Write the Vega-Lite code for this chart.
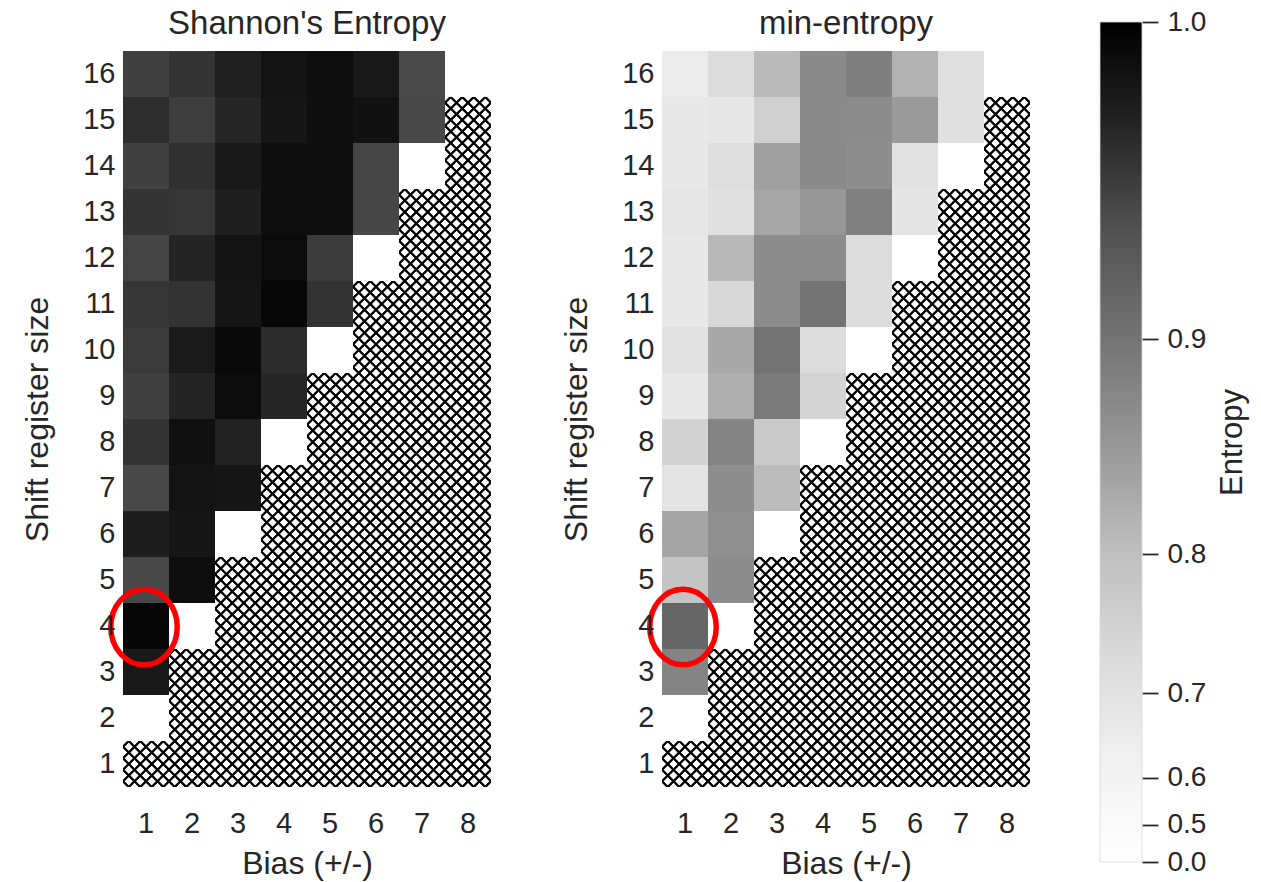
{
  "$schema": "https://vega.github.io/schema/vega-lite/v6.json",
  "padding": {"left": 21, "top": 8, "right": 10, "bottom": 5},
  "bounds": "full",
  "spacing": 69,
  "data": {"values": [
    {"bias":1,"size":16,"shannon":0.952,"minent":0.653},{"bias":2,"size":16,"shannon":0.960,"minent":0.724},{"bias":3,"size":16,"shannon":0.975,"minent":0.809},{"bias":4,"size":16,"shannon":0.985,"minent":0.873},{"bias":5,"size":16,"shannon":0.989,"minent":0.887},{"bias":6,"size":16,"shannon":0.981,"minent":0.820},{"bias":7,"size":16,"shannon":0.944,"minent":0.708},{"bias":8,"size":16,"shannon":0,"minent":0},
    {"bias":1,"size":15,"shannon":0.965,"minent":0.673},{"bias":2,"size":15,"shannon":0.953,"minent":0.683},{"bias":3,"size":15,"shannon":0.970,"minent":0.760},{"bias":4,"size":15,"shannon":0.983,"minent":0.873},{"bias":5,"size":15,"shannon":0.989,"minent":0.871},{"bias":6,"size":15,"shannon":0.986,"minent":0.852},{"bias":7,"size":15,"shannon":0.946,"minent":0.708},{"bias":8,"size":15},
    {"bias":1,"size":14,"shannon":0.951,"minent":0.673},{"bias":2,"size":14,"shannon":0.963,"minent":0.720},{"bias":3,"size":14,"shannon":0.981,"minent":0.845},{"bias":4,"size":14,"shannon":0.989,"minent":0.873},{"bias":5,"size":14,"shannon":0.989,"minent":0.868},{"bias":6,"size":14,"shannon":0.947,"minent":0.700},{"bias":7,"size":14,"shannon":0,"minent":0},{"bias":8,"size":14},
    {"bias":1,"size":13,"shannon":0.961,"minent":0.683},{"bias":2,"size":13,"shannon":0.959,"minent":0.708},{"bias":3,"size":13,"shannon":0.976,"minent":0.837},{"bias":4,"size":13,"shannon":0.989,"minent":0.857},{"bias":5,"size":13,"shannon":0.989,"minent":0.886},{"bias":6,"size":13,"shannon":0.947,"minent":0.692},{"bias":7,"size":13},{"bias":8,"size":13},
    {"bias":1,"size":12,"shannon":0.949,"minent":0.673},{"bias":2,"size":12,"shannon":0.972,"minent":0.812},{"bias":3,"size":12,"shannon":0.985,"minent":0.871},{"bias":4,"size":12,"shannon":0.992,"minent":0.871},{"bias":5,"size":12,"shannon":0.955,"minent":0.724},{"bias":6,"size":12,"shannon":0,"minent":0},{"bias":7,"size":12},{"bias":8,"size":12},
    {"bias":1,"size":11,"shannon":0.959,"minent":0.673},{"bias":2,"size":11,"shannon":0.961,"minent":0.738},{"bias":3,"size":11,"shannon":0.984,"minent":0.871},{"bias":4,"size":11,"shannon":0.994,"minent":0.901},{"bias":5,"size":11,"shannon":0.961,"minent":0.724},{"bias":6,"size":11},{"bias":7,"size":11},{"bias":8,"size":11},
    {"bias":1,"size":10,"shannon":0.956,"minent":0.700},{"bias":2,"size":10,"shannon":0.980,"minent":0.834},{"bias":3,"size":10,"shannon":0.993,"minent":0.902},{"bias":4,"size":10,"shannon":0.966,"minent":0.724},{"bias":5,"size":10,"shannon":0,"minent":0},{"bias":6,"size":10},{"bias":7,"size":10},{"bias":8,"size":10},
    {"bias":1,"size":9,"shannon":0.951,"minent":0.673},{"bias":2,"size":9,"shannon":0.972,"minent":0.826},{"bias":3,"size":9,"shannon":0.992,"minent":0.893},{"bias":4,"size":9,"shannon":0.970,"minent":0.749},{"bias":5,"size":9},{"bias":6,"size":9},{"bias":7,"size":9},{"bias":8,"size":9},
    {"bias":1,"size":8,"shannon":0.960,"minent":0.754},{"bias":2,"size":8,"shannon":0.988,"minent":0.881},{"bias":3,"size":8,"shannon":0.973,"minent":0.775},{"bias":4,"size":8,"shannon":0,"minent":0},{"bias":5,"size":8},{"bias":6,"size":8},{"bias":7,"size":8},{"bias":8,"size":8},
    {"bias":1,"size":7,"shannon":0.946,"minent":0.692},{"bias":2,"size":7,"shannon":0.985,"minent":0.868},{"bias":3,"size":7,"shannon":0.983,"minent":0.806},{"bias":4,"size":7},{"bias":5,"size":7},{"bias":6,"size":7},{"bias":7,"size":7},{"bias":8,"size":7},
    {"bias":1,"size":6,"shannon":0.977,"minent":0.840},{"bias":2,"size":6,"shannon":0.983,"minent":0.867},{"bias":3,"size":6,"shannon":0,"minent":0},{"bias":4,"size":6},{"bias":5,"size":6},{"bias":6,"size":6},{"bias":7,"size":6},{"bias":8,"size":6},
    {"bias":1,"size":5,"shannon":0.946,"minent":0.789},{"bias":2,"size":5,"shannon":0.990,"minent":0.871},{"bias":3,"size":5},{"bias":4,"size":5},{"bias":5,"size":5},{"bias":6,"size":5},{"bias":7,"size":5},{"bias":8,"size":5},
    {"bias":1,"size":4,"shannon":0.995,"minent":0.916},{"bias":2,"size":4,"shannon":0,"minent":0},{"bias":3,"size":4},{"bias":4,"size":4},{"bias":5,"size":4},{"bias":6,"size":4},{"bias":7,"size":4},{"bias":8,"size":4},
    {"bias":1,"size":3,"shannon":0.981,"minent":0.881},{"bias":2,"size":3},{"bias":3,"size":3},{"bias":4,"size":3},{"bias":5,"size":3},{"bias":6,"size":3},{"bias":7,"size":3},{"bias":8,"size":3},
    {"bias":1,"size":2,"shannon":0,"minent":0},{"bias":2,"size":2},{"bias":3,"size":2},{"bias":4,"size":2},{"bias":5,"size":2},{"bias":6,"size":2},{"bias":7,"size":2},{"bias":8,"size":2},
    {"bias":1,"size":1},{"bias":2,"size":1},{"bias":3,"size":1},{"bias":4,"size":1},{"bias":5,"size":1},{"bias":6,"size":1},{"bias":7,"size":1},{"bias":8,"size":1}
  ]},
  "resolve": {"scale": {"x": "independent", "y": "independent", "color": "independent"}},
  "hconcat": [
    {
      "width": 368, "height": 736,
      "title": {"text": "Shannon's Entropy"},
      "encoding": {
        "x": {"field": "bias", "type": "ordinal", "title": "Bias (+/-)", "scale": {"paddingInner": 0, "paddingOuter": 0}, "axis": {"labelAngle": 0, "labelPadding": 22, "titlePadding": 10}},
        "y": {"field": "size", "type": "ordinal", "sort": "descending", "title": "Shift register size", "scale": {"paddingInner": 0, "paddingOuter": 0}, "axis": {"labelPadding": 8, "titlePadding": 28}}
      },
      "layer": [
        {"transform": [{"filter": "!isValid(datum.shannon)"}], "mark": {"type": "rect", "fill": {"gradient": "linear", "x1": 0, "y1": 0, "x2": 1, "y2": 1, "stops": [{"offset":0.0385,"color":"rgba(0,0,0,0)"},{"offset":0.0505,"color":"#000"},{"offset":0.0745,"color":"#000"},{"offset":0.0865,"color":"rgba(0,0,0,0)"},{"offset":0.1635,"color":"rgba(0,0,0,0)"},{"offset":0.1755,"color":"#000"},{"offset":0.1995,"color":"#000"},{"offset":0.2115,"color":"rgba(0,0,0,0)"},{"offset":0.2885,"color":"rgba(0,0,0,0)"},{"offset":0.3005,"color":"#000"},{"offset":0.3245,"color":"#000"},{"offset":0.3365,"color":"rgba(0,0,0,0)"},{"offset":0.4135,"color":"rgba(0,0,0,0)"},{"offset":0.4255,"color":"#000"},{"offset":0.4495,"color":"#000"},{"offset":0.4615,"color":"rgba(0,0,0,0)"},{"offset":0.5385,"color":"rgba(0,0,0,0)"},{"offset":0.5505,"color":"#000"},{"offset":0.5745,"color":"#000"},{"offset":0.5865,"color":"rgba(0,0,0,0)"},{"offset":0.6635,"color":"rgba(0,0,0,0)"},{"offset":0.6755,"color":"#000"},{"offset":0.6995,"color":"#000"},{"offset":0.7115,"color":"rgba(0,0,0,0)"},{"offset":0.7885,"color":"rgba(0,0,0,0)"},{"offset":0.8005,"color":"#000"},{"offset":0.8245,"color":"#000"},{"offset":0.8365,"color":"rgba(0,0,0,0)"},{"offset":0.9135,"color":"rgba(0,0,0,0)"},{"offset":0.9255,"color":"#000"},{"offset":0.9495,"color":"#000"},{"offset":0.9615,"color":"rgba(0,0,0,0)"}]}}},
        {"transform": [{"filter": "!isValid(datum.shannon)"}], "mark": {"type": "rect", "fill": {"gradient": "linear", "x1": 1, "y1": 0, "x2": 0, "y2": 1, "stops": [{"offset":0.0385,"color":"rgba(0,0,0,0)"},{"offset":0.0505,"color":"#000"},{"offset":0.0745,"color":"#000"},{"offset":0.0865,"color":"rgba(0,0,0,0)"},{"offset":0.1635,"color":"rgba(0,0,0,0)"},{"offset":0.1755,"color":"#000"},{"offset":0.1995,"color":"#000"},{"offset":0.2115,"color":"rgba(0,0,0,0)"},{"offset":0.2885,"color":"rgba(0,0,0,0)"},{"offset":0.3005,"color":"#000"},{"offset":0.3245,"color":"#000"},{"offset":0.3365,"color":"rgba(0,0,0,0)"},{"offset":0.4135,"color":"rgba(0,0,0,0)"},{"offset":0.4255,"color":"#000"},{"offset":0.4495,"color":"#000"},{"offset":0.4615,"color":"rgba(0,0,0,0)"},{"offset":0.5385,"color":"rgba(0,0,0,0)"},{"offset":0.5505,"color":"#000"},{"offset":0.5745,"color":"#000"},{"offset":0.5865,"color":"rgba(0,0,0,0)"},{"offset":0.6635,"color":"rgba(0,0,0,0)"},{"offset":0.6755,"color":"#000"},{"offset":0.6995,"color":"#000"},{"offset":0.7115,"color":"rgba(0,0,0,0)"},{"offset":0.7885,"color":"rgba(0,0,0,0)"},{"offset":0.8005,"color":"#000"},{"offset":0.8245,"color":"#000"},{"offset":0.8365,"color":"rgba(0,0,0,0)"},{"offset":0.9135,"color":"rgba(0,0,0,0)"},{"offset":0.9255,"color":"#000"},{"offset":0.9495,"color":"#000"},{"offset":0.9615,"color":"rgba(0,0,0,0)"}]}}},
        {"transform": [{"filter": "isValid(datum.shannon)"}], "mark": {"type": "rect"},
         "encoding": {"color": {"field": "shannon", "type": "quantitative", "legend": null, "scale": {"type": "pow", "exponent": 4.5, "domain": [0, 0.63, 0.7349, 0.8042, 0.8572, 0.9008, 0.9381, 0.9708, 1], "range": ["#ffffff","#f0f0f0","#d9d9d9","#bdbdbd","#969696","#737373","#525252","#252525","#000000"], "interpolate": "rgb"}}}},
        {"transform": [{"filter": "datum.bias == 1 && datum.size == 4"}],
         "mark": {"type": "point", "shape": "M1,0C1,0.628,0.552,1.137,0,1.137C-0.552,1.137,-1,0.628,-1,0C-1,-0.628,-0.552,-1.137,0,-1.137C0.552,-1.137,1,-0.628,1,0Z", "size": 4422, "filled": false, "stroke": "#ff0000", "strokeWidth": 5.5, "opacity": 1, "xOffset": -2, "yOffset": 1}}
      ]
    },
    {
      "width": 368, "height": 736,
      "title": {"text": "min-entropy"},
      "encoding": {
        "x": {"field": "bias", "type": "ordinal", "title": "Bias (+/-)", "scale": {"paddingInner": 0, "paddingOuter": 0}, "axis": {"labelAngle": 0, "labelPadding": 22, "titlePadding": 10}},
        "y": {"field": "size", "type": "ordinal", "sort": "descending", "title": "Shift register size", "scale": {"paddingInner": 0, "paddingOuter": 0}, "axis": {"labelPadding": 8, "titlePadding": 28}}
      },
      "layer": [
        {"transform": [{"filter": "!isValid(datum.minent)"}], "mark": {"type": "rect", "fill": {"gradient": "linear", "x1": 0, "y1": 0, "x2": 1, "y2": 1, "stops": [{"offset":0.0385,"color":"rgba(0,0,0,0)"},{"offset":0.0505,"color":"#000"},{"offset":0.0745,"color":"#000"},{"offset":0.0865,"color":"rgba(0,0,0,0)"},{"offset":0.1635,"color":"rgba(0,0,0,0)"},{"offset":0.1755,"color":"#000"},{"offset":0.1995,"color":"#000"},{"offset":0.2115,"color":"rgba(0,0,0,0)"},{"offset":0.2885,"color":"rgba(0,0,0,0)"},{"offset":0.3005,"color":"#000"},{"offset":0.3245,"color":"#000"},{"offset":0.3365,"color":"rgba(0,0,0,0)"},{"offset":0.4135,"color":"rgba(0,0,0,0)"},{"offset":0.4255,"color":"#000"},{"offset":0.4495,"color":"#000"},{"offset":0.4615,"color":"rgba(0,0,0,0)"},{"offset":0.5385,"color":"rgba(0,0,0,0)"},{"offset":0.5505,"color":"#000"},{"offset":0.5745,"color":"#000"},{"offset":0.5865,"color":"rgba(0,0,0,0)"},{"offset":0.6635,"color":"rgba(0,0,0,0)"},{"offset":0.6755,"color":"#000"},{"offset":0.6995,"color":"#000"},{"offset":0.7115,"color":"rgba(0,0,0,0)"},{"offset":0.7885,"color":"rgba(0,0,0,0)"},{"offset":0.8005,"color":"#000"},{"offset":0.8245,"color":"#000"},{"offset":0.8365,"color":"rgba(0,0,0,0)"},{"offset":0.9135,"color":"rgba(0,0,0,0)"},{"offset":0.9255,"color":"#000"},{"offset":0.9495,"color":"#000"},{"offset":0.9615,"color":"rgba(0,0,0,0)"}]}}},
        {"transform": [{"filter": "!isValid(datum.minent)"}], "mark": {"type": "rect", "fill": {"gradient": "linear", "x1": 1, "y1": 0, "x2": 0, "y2": 1, "stops": [{"offset":0.0385,"color":"rgba(0,0,0,0)"},{"offset":0.0505,"color":"#000"},{"offset":0.0745,"color":"#000"},{"offset":0.0865,"color":"rgba(0,0,0,0)"},{"offset":0.1635,"color":"rgba(0,0,0,0)"},{"offset":0.1755,"color":"#000"},{"offset":0.1995,"color":"#000"},{"offset":0.2115,"color":"rgba(0,0,0,0)"},{"offset":0.2885,"color":"rgba(0,0,0,0)"},{"offset":0.3005,"color":"#000"},{"offset":0.3245,"color":"#000"},{"offset":0.3365,"color":"rgba(0,0,0,0)"},{"offset":0.4135,"color":"rgba(0,0,0,0)"},{"offset":0.4255,"color":"#000"},{"offset":0.4495,"color":"#000"},{"offset":0.4615,"color":"rgba(0,0,0,0)"},{"offset":0.5385,"color":"rgba(0,0,0,0)"},{"offset":0.5505,"color":"#000"},{"offset":0.5745,"color":"#000"},{"offset":0.5865,"color":"rgba(0,0,0,0)"},{"offset":0.6635,"color":"rgba(0,0,0,0)"},{"offset":0.6755,"color":"#000"},{"offset":0.6995,"color":"#000"},{"offset":0.7115,"color":"rgba(0,0,0,0)"},{"offset":0.7885,"color":"rgba(0,0,0,0)"},{"offset":0.8005,"color":"#000"},{"offset":0.8245,"color":"#000"},{"offset":0.8365,"color":"rgba(0,0,0,0)"},{"offset":0.9135,"color":"rgba(0,0,0,0)"},{"offset":0.9255,"color":"#000"},{"offset":0.9495,"color":"#000"},{"offset":0.9615,"color":"rgba(0,0,0,0)"}]}}},
        {"transform": [{"filter": "isValid(datum.minent)"}], "mark": {"type": "rect"},
         "encoding": {"color": {"field": "minent", "type": "quantitative", "legend": null, "scale": {"type": "pow", "exponent": 4.5, "domain": [0, 0.63, 0.7349, 0.8042, 0.8572, 0.9008, 0.9381, 0.9708, 1], "range": ["#ffffff","#f0f0f0","#d9d9d9","#bdbdbd","#969696","#737373","#525252","#252525","#000000"], "interpolate": "rgb"}}}},
        {"transform": [{"filter": "datum.bias == 1 && datum.size == 4"}],
         "mark": {"type": "point", "shape": "M1,0C1,0.628,0.552,1.137,0,1.137C-0.552,1.137,-1,0.628,-1,0C-1,-0.628,-0.552,-1.137,0,-1.137C0.552,-1.137,1,-0.628,1,0Z", "size": 4422, "filled": false, "stroke": "#ff0000", "strokeWidth": 5.5, "opacity": 1, "xOffset": -2, "yOffset": 1}}
      ]
    },
    {
      "width": 42, "height": 736,
      "transform": [{"aggregate": [{"op": "count", "as": "n"}]}],
      "mark": {"type": "rect", "fill": {"gradient": "linear", "x1": 0, "y1": 1, "x2": 0, "y2": 0, "stops": [{"offset": 0, "color": "#ffffff"}, {"offset": 0.125, "color": "#f0f0f0"}, {"offset": 0.25, "color": "#d9d9d9"}, {"offset": 0.375, "color": "#bdbdbd"}, {"offset": 0.5, "color": "#969696"}, {"offset": 0.625, "color": "#737373"}, {"offset": 0.75, "color": "#525252"}, {"offset": 0.875, "color": "#252525"}, {"offset": 1, "color": "#000000"}]}, "stroke": "#d8d8d8", "strokeWidth": 0.8},
      "encoding": {
        "y": {"datum": 0, "type": "quantitative", "scale": {"type": "pow", "exponent": 4.5, "domain": [0, 1], "range": [811, -29], "zero": false, "nice": false},
              "axis": {"orient": "right", "values": [0, 0.5, 0.6, 0.7, 0.8, 0.9, 1], "format": ".1f", "ticks": true, "tickSize": 16, "tickWidth": 1.8, "tickColor": "#262626", "labelPadding": 9, "labelFontSize": 28, "labelOverlap": false, "title": "Entropy", "titleFontSize": 31, "titleAngle": 270, "titleBaseline": "top", "titlePadding": 12}},
        "y2": {"datum": 1}
      }
    }
  ],
  "config": {
    "font": "Liberation Sans",
    "background": "white",
    "view": {"stroke": null},
    "axis": {"labelFontSize": 29, "labelColor": "#262626", "titleFontSize": 32, "titleFontWeight": "normal", "titleColor": "#262626", "domain": false, "ticks": false, "tickSize": 0, "grid": false, "labelFont": "Liberation Sans", "titleFont": "Liberation Sans"},
    "title": {"fontSize": 33, "fontWeight": "normal", "color": "#262626", "font": "Liberation Sans", "anchor": "middle", "frame": "group", "offset": 10}
  }
}
